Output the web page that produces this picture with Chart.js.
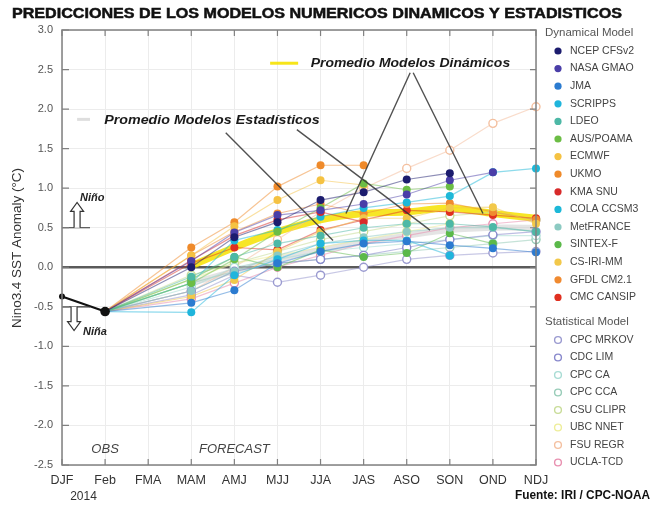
<!DOCTYPE html>
<html>
<head>
<meta charset="utf-8">
<script src="https://cdn.jsdelivr.net/npm/chart.js@4.4.1/dist/chart.umd.min.js"></script>
<style>
  html, body { margin: 0; padding: 0; background: #fff; }
  #wrap { width: 663px; height: 507px; }
</style>
</head>
<body>
<div id="wrap"><canvas id="c" width="663" height="507"></canvas></div>
<script>
// Three-month seasons on the x axis (observed DJF/Feb, then forecasts)
const periods = ['DJF', 'Feb', 'FMA', 'MAM', 'AMJ', 'MJJ', 'JJA', 'JAS', 'ASO', 'SON', 'OND', 'NDJ'];
const forecastStart = 3; // first forecast season (MAM)

// Observed Niño 3.4 anomaly
const observed = [-0.37, -0.56];

// Dynamical models, MAM .. NDJ (null = no forecast)
const ncepCfsv2 = [0.00, 0.38, 0.57, 0.85, 0.95, 1.11, 1.19, null, null];
const nasaGmao  = [0.08, 0.44, 0.66, 0.72, 0.80, 0.92, 1.10, 1.20, null];
const jma       = [-0.45, -0.29, 0.05, 0.20, 0.30, 0.33, 0.28, 0.24, 0.19];
const scripps   = [-0.57, -0.10, 0.10, 0.30, 0.34, 0.34, 0.15, null, null];
const ldeo      = [-0.12, 0.13, 0.30, 0.40, 0.50, 0.55, 0.55, 0.51, 0.45];
const ausPoama  = [-0.20, 0.10, 0.45, 0.75, 1.06, 0.98, 1.02, null, null];
const ecmwf     = [0.15, 0.52, 0.85, 1.10, 1.04, null, null, null, null];
const ukmo      = [0.25, 0.57, 1.02, 1.29, 1.29, null, null, null, null];
const kmaSnu    = [0.09, 0.40, 0.60, 0.70, 0.57, null, null, null, null];
const colaCcsm3 = [-0.20, 0.34, 0.47, 0.64, 0.75, 0.82, 0.90, 1.20, 1.25];
const metFrance = [-0.30, -0.05, 0.15, 0.30, 0.38, 0.45, 0.50, 0.50, 0.45];
const sintexF   = [-0.15, 0.13, 0.00, 0.22, 0.13, 0.18, 0.43, 0.30, null];
const csIriMm   = [-0.37, -0.16, 0.20, 0.45, 0.62, 0.62, 0.75, 0.76, 0.55];
const gfdlCm21  = [0.15, 0.45, 0.68, 0.80, 0.68, 0.80, 0.81, 0.70, 0.60];
const cmcCansip = [0.05, 0.25, 0.22, 0.47, 0.60, 0.72, 0.70, 0.66, 0.62];

// Statistical models, MAM .. NDJ
const cpcMrkov  = [-0.35, -0.10, -0.19, -0.10, 0.00, 0.10, 0.15, 0.18, 0.20];
const cdcLim    = [-0.30, -0.05, 0.05, 0.10, 0.15, 0.25, 0.35, 0.41, 0.45];
const cpcCa     = [-0.25, 0.00, 0.10, 0.20, 0.25, 0.30, 0.35, 0.40, 0.40];
const cpcCca    = [-0.20, -0.05, 0.05, 0.10, 0.15, 0.20, 0.25, 0.30, 0.35];
const csuClipr  = [-0.10, 0.05, 0.20, 0.35, 0.45, 0.55, 0.65, 0.70, 0.60];
const ubcNnet   = [-0.15, 0.05, 0.15, 0.25, 0.35, 0.45, 0.55, null, null];
const fsuRegr   = [-0.30, 0.00, 0.35, 0.70, 1.00, 1.25, 1.48, 1.82, 2.03];
const uclaTcd   = [-0.40, -0.20, 0.00, 0.15, 0.30, 0.40, 0.50, 0.55, 0.60];

// Ensemble means
const dynamicalMean   = [0.02, 0.25, 0.45, 0.60, 0.68, 0.70, 0.75, 0.68, 0.62];
const statisticalMean = [-0.20, -0.05, 0.10, 0.22, 0.32, 0.40, 0.47, 0.50, 0.50];

const dynamicalModels = [
  ['NCEP CFSv2', ncepCfsv2, '#1c1c6e'],
  ['NASA GMAO', nasaGmao, '#4a3ea8'],
  ['JMA', jma, '#2b7bd0'],
  ['SCRIPPS', scripps, '#1fb5dc'],
  ['LDEO', ldeo, '#4db8a6'],
  ['AUS/POAMA', ausPoama, '#6cbd45'],
  ['ECMWF', ecmwf, '#f5c242'],
  ['UKMO', ukmo, '#ef8a2a'],
  ['KMA SNU', kmaSnu, '#d82a2a'],
  ['COLA CCSM3', colaCcsm3, '#1db8d8'],
  ['MetFRANCE', metFrance, '#8ccac2'],
  ['SINTEX-F', sintexF, '#5bb94a'],
  ['CS-IRI-MM', csIriMm, '#f2c84a'],
  ['GFDL CM2.1', gfdlCm21, '#f08a30'],
  ['CMC CANSIP', cmcCansip, '#e03020']
];
const statisticalModels = [
  ['CPC MRKOV', cpcMrkov, '#9a9ad0'],
  ['CDC LIM', cdcLim, '#8888cc'],
  ['CPC CA', cpcCa, '#a8dcd4'],
  ['CPC CCA', cpcCca, '#98ccb8'],
  ['CSU CLIPR', csuClipr, '#c8dc98'],
  ['UBC NNET', ubcNnet, '#eeee9a'],
  ['FSU REGR', fsuRegr, '#f4c0a0'],
  ['UCLA-TCD', uclaTcd, '#e890b0']
];

function withAlpha(hex, a) {
  const n = parseInt(hex.slice(1), 16);
  return `rgba(${(n >> 16) & 255},${(n >> 8) & 255},${n & 255},${a})`;
}

// A model's line starts at the last observed value and jumps to its first forecast season
function modelDataset(label, vals, color, open) {
  const data = periods.map((_, i) =>
    i === 1 ? observed[1] : (i >= forecastStart ? vals[i - forecastStart] : null));
  return {
    label, data, spanGaps: true, order: 2,
    borderColor: withAlpha(color, open ? 0.55 : 0.5),
    borderWidth: 1.2,
    segment: { borderColor: c => c.p0DataIndex === 1 ? 'rgba(60,60,80,0.5)' : undefined },
    pointRadius: c => c.dataIndex < forecastStart ? 0 : 4,
    pointBackgroundColor: open ? '#ffffff' : color,
    pointBorderColor: color,
    pointBorderWidth: open ? 1.4 : 0,
    pointHoverRadius: 0
  };
}

function meanDataset(vals, color, width, order) {
  return {
    data: periods.map((_, i) => i >= forecastStart ? vals[i - forecastStart] : null),
    borderColor: color, borderWidth: width, pointRadius: 0, tension: 0.3, order
  };
}

const datasets = [
  {
    label: 'OBS',
    data: periods.map((_, i) => i < observed.length ? observed[i] : null),
    borderColor: '#111', borderWidth: 2.2, pointRadius: [3, 4.8],
    pointBackgroundColor: '#111', pointBorderWidth: 0, order: 0
  },
  ...dynamicalModels.map(m => modelDataset(m[0], m[1], m[2], false)),
  ...statisticalModels.map(m => modelDataset(m[0], m[1], m[2], true)),
  meanDataset(dynamicalMean, 'rgba(246,226,0,0.85)', 7, 5),
  meanDataset(statisticalMean, 'rgba(205,205,205,0.55)', 6, 6)
];

function fitText(ctx, text, x, y, targetW) {
  const w = ctx.measureText(text).width;
  ctx.save();
  ctx.translate(x, y);
  ctx.scale(targetW / w, 1);
  ctx.textAlign = 'left';
  ctx.fillText(text, 0, 0);
  ctx.restore();
}

function hollowArrow(ctx, x, yBase, yTip) {
  const dir = Math.sign(yTip - yBase);
  const shaft = 3, head = 6.5, headLen = 9;
  const yNeck = yTip - dir * headLen;
  ctx.beginPath();
  ctx.moveTo(x - shaft, yBase);
  ctx.lineTo(x - shaft, yNeck);
  ctx.lineTo(x - head, yNeck);
  ctx.lineTo(x, yTip);
  ctx.lineTo(x + head, yNeck);
  ctx.lineTo(x + shaft, yNeck);
  ctx.lineTo(x + shaft, yBase);
  ctx.fillStyle = '#fff';
  ctx.fill();
  ctx.strokeStyle = '#333';
  ctx.lineWidth = 1.2;
  ctx.stroke();
}

const decorations = {
  id: 'decorations',
  beforeDraw(chart) {
    const ctx = chart.ctx;
    ctx.save();
    ctx.fillStyle = '#fff';
    ctx.fillRect(0, 0, chart.width, chart.height);
    ctx.restore();
  },
  beforeDatasetsDraw(chart) {
    const { ctx, chartArea: a, scales: { y } } = chart;
    ctx.save();
    ctx.strokeStyle = '#5a5a5a';
    ctx.lineWidth = 2.5;
    const y0 = y.getPixelForValue(0);
    ctx.beginPath();
    ctx.moveTo(a.left, y0);
    ctx.lineTo(a.right, y0);
    ctx.stroke();
    ctx.restore();
  },
  afterDatasetsDraw(chart) {
    const { ctx, scales: { x, y } } = chart;
    const px = i => x.getPixelForValue(i);
    const py = v => y.getPixelForValue(v);
    ctx.save();

    // Niño / Niña thresholds
    ctx.strokeStyle = '#333';
    ctx.lineWidth = 1.2;
    ctx.beginPath();
    ctx.moveTo(px(0), py(0.5)); ctx.lineTo(px(0.65), py(0.5));
    ctx.moveTo(px(0), py(-0.5)); ctx.lineTo(px(0.65), py(-0.5));
    ctx.stroke();
    hollowArrow(ctx, px(0.35), py(0.5), py(0.82));
    hollowArrow(ctx, px(0.28), py(-0.5), py(-0.8));
    ctx.fillStyle = '#222';
    ctx.font = 'italic bold 11px "Liberation Sans", Arial, sans-serif';
    ctx.textBaseline = 'middle';
    ctx.textAlign = 'left';
    ctx.fillText('Niño', px(0.42), py(0.87));
    ctx.fillText('Niña', px(0.49), py(-0.82));

    // OBS / FORECAST
    ctx.fillStyle = '#444';
    ctx.font = 'italic 13px "Liberation Sans", Arial, sans-serif';
    ctx.textAlign = 'center';
    ctx.fillText('OBS', px(1.0), py(-2.3));
    ctx.fillText('FORECAST', px(4.0), py(-2.3));

    // Mean labels with leader lines
    ctx.strokeStyle = 'rgba(246,226,0,0.9)';
    ctx.lineWidth = 3;
    ctx.beginPath();
    ctx.moveTo(px(4.83), py(2.58)); ctx.lineTo(px(5.48), py(2.58));
    ctx.stroke();
    ctx.strokeStyle = 'rgba(200,200,200,0.6)';
    ctx.lineWidth = 3;
    ctx.beginPath();
    ctx.moveTo(px(0.35), py(1.87)); ctx.lineTo(px(0.65), py(1.87));
    ctx.stroke();

    ctx.fillStyle = '#1a1a1a';
    ctx.font = 'italic bold 13px "Liberation Sans", Arial, sans-serif';
    ctx.textBaseline = 'middle';
    fitText(ctx, 'Promedio Modelos Dinámicos', px(5.77), py(2.58), px(10.4) - px(5.77));
    fitText(ctx, 'Promedio Modelos Estadísticos', px(0.98), py(1.86), px(5.98) - px(0.98));

    ctx.strokeStyle = 'rgba(50,50,50,0.85)';
    ctx.lineWidth = 1.4;
    const leaders = [
      [[8.08, 2.46], [6.59, 0.68]],
      [[8.15, 2.46], [9.77, 0.68]],
      [[3.80, 1.70], [6.29, 0.34]],
      [[5.45, 1.74], [8.54, 0.47]]
    ];
    ctx.beginPath();
    leaders.forEach(([p, q]) => {
      ctx.moveTo(px(p[0]), py(p[1]));
      ctx.lineTo(px(q[0]), py(q[1]));
    });
    ctx.stroke();
    ctx.restore();
  },
  afterDraw(chart) {
    const { ctx, chartArea: a, scales: { x, y } } = chart;
    ctx.save();

    // Frame and inward ticks
    ctx.strokeStyle = '#808080';
    ctx.lineWidth = 1.5;
    ctx.strokeRect(a.left, a.top, a.right - a.left, a.bottom - a.top);
    ctx.lineWidth = 1.2;
    ctx.beginPath();
    y.ticks.forEach(t => {
      const yy = y.getPixelForValue(t.value);
      ctx.moveTo(a.left, yy); ctx.lineTo(a.left + 7, yy);
      ctx.moveTo(a.right, yy); ctx.lineTo(a.right - 6, yy);
    });
    periods.forEach((_, i) => {
      const xx = x.getPixelForValue(i);
      ctx.moveTo(xx, a.top); ctx.lineTo(xx, a.top + 6);
      ctx.moveTo(xx, a.bottom); ctx.lineTo(xx, a.bottom - 6);
    });
    ctx.stroke();

    // Title
    ctx.fillStyle = '#111';
    ctx.strokeStyle = '#111';
    ctx.lineWidth = 0.5;
    ctx.font = 'bold 14px "Liberation Sans", Arial, sans-serif';
    ctx.textBaseline = 'middle';
    const title = 'PREDICCIONES DE LOS MODELOS NUMERICOS DINAMICOS Y ESTADISTICOS';
    const tw = ctx.measureText(title).width;
    ctx.save();
    ctx.translate(12, 14);
    ctx.scale(610 / tw, 1);
    ctx.fillText(title, 0, 0);
    ctx.strokeText(title, 0, 0);
    ctx.restore();

    // Y axis title
    ctx.save();
    ctx.translate(18, 248);
    ctx.rotate(-Math.PI / 2);
    ctx.fillStyle = '#333';
    ctx.font = '12px "Liberation Sans", Arial, sans-serif';
    const yt = 'Nino3.4 SST Anomaly (°C)';
    const yw = ctx.measureText(yt).width;
    ctx.scale(160 / yw, 1);
    ctx.textAlign = 'center';
    ctx.textBaseline = 'middle';
    ctx.fillText(yt, 0, 0);
    ctx.restore();

    // Year under the first seasons
    ctx.fillStyle = '#333';
    ctx.font = '12px "Liberation Sans", Arial, sans-serif';
    ctx.textAlign = 'center';
    ctx.fillText('2014', (x.getPixelForValue(0) + x.getPixelForValue(1)) / 2, 497);

    // Source
    ctx.font = 'bold 12px "Liberation Sans", Arial, sans-serif';
    ctx.fillStyle = '#111';
    fitText(ctx, 'Fuente: IRI / CPC-NOAA', 515, 496, 135);

    // Legend
    ctx.textBaseline = 'middle';
    ctx.textAlign = 'left';
    ctx.fillStyle = '#555';
    ctx.font = '11.5px "Liberation Sans", Arial, sans-serif';
    ctx.fillText('Dynamical Model', 545, 33);
    ctx.fillText('Statistical Model', 545, 322);
    ctx.font = '10.5px "Liberation Sans", Arial, sans-serif';
    dynamicalModels.forEach((m, i) => {
      const yy = 51 + i * 17.6;
      ctx.beginPath();
      ctx.arc(558, yy, 3.6, 0, Math.PI * 2);
      ctx.fillStyle = m[2];
      ctx.fill();
      ctx.fillStyle = '#444';
      ctx.fillText(m[0], 570, yy);
    });
    statisticalModels.forEach((m, i) => {
      const yy = 340 + i * 17.5;
      ctx.beginPath();
      ctx.arc(558, yy, 3.4, 0, Math.PI * 2);
      ctx.fillStyle = '#fff';
      ctx.fill();
      ctx.strokeStyle = m[2];
      ctx.lineWidth = 1.4;
      ctx.stroke();
      ctx.fillStyle = '#444';
      ctx.fillText(m[0], 570, yy);
    });
    ctx.restore();
  }
};

new Chart(document.getElementById('c'), {
  type: 'line',
  data: { labels: periods, datasets },
  options: {
    responsive: false,
    animation: false,
    devicePixelRatio: 1,
    layout: { padding: { left: 0, right: 127, top: 30, bottom: 0 } },
    plugins: { legend: { display: false }, tooltip: { enabled: false } },
    elements: { line: { tension: 0 } },
    scales: {
      x: {
        type: 'category',
        offset: false,
        grid: { color: '#ececec', drawTicks: false, offset: false },
        border: { display: false },
        ticks: {
          color: '#333', padding: 8, autoSkip: false, maxRotation: 0,
          font: { size: 12.5, family: '"Liberation Sans", Arial, sans-serif' }
        },
        afterFit: s => { s.height = 42; }
      },
      y: {
        min: -2.5, max: 3.0,
        grid: { color: '#ececec', drawTicks: false },
        border: { display: false },
        ticks: {
          stepSize: 0.5, padding: 9, color: '#555',
          font: { size: 11, family: '"Liberation Sans", Arial, sans-serif' },
          callback: v => Number(v).toFixed(1)
        },
        afterFit: s => { s.width = 62; }
      }
    }
  },
  plugins: [decorations]
});
</script>
</body>
</html>
